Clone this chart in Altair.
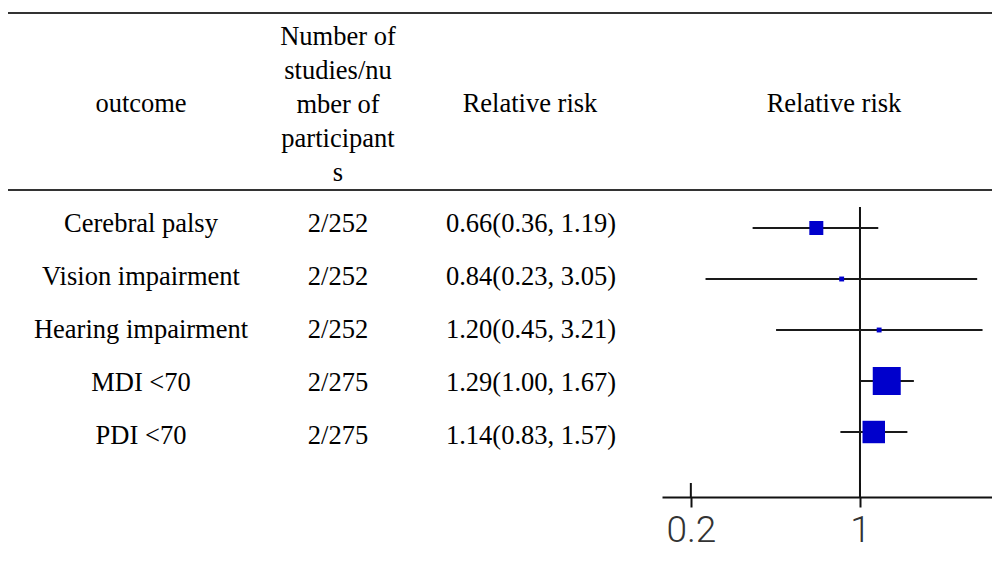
import altair as alt
import pandas as pd

# ---- data ----
outcomes = ["Cerebral palsy", "Vision impairment", "Hearing impairment", "MDI <70", "PDI <70"]
studies = ["2/252", "2/252", "2/252", "2/275", "2/275"]
rr = [0.66, 0.84, 1.20, 1.29, 1.14]
ci_low = [0.36, 0.23, 0.45, 1.00, 0.83]
ci_high = [1.19, 3.05, 3.21, 1.67, 1.57]
weights = [24.5, 3.0, 3.0, 98.0, 63.0]
tick_values = [0.2, 1]
header_outcome = "outcome"
header_studies = ["Number of", "studies/nu", "mber of", "participant", "s"]
header_rr = "Relative risk"

df = pd.DataFrame({
    "row": list(range(len(outcomes))),
    "outcome": outcomes,
    "studies": studies,
    "rr": rr,
    "lo": ci_low,
    "hi": ci_high,
    "w": weights,
})
df["rr_text"] = [f"{a:.2f}({b:.2f}, {c:.2f})" for a, b, c in zip(rr, ci_low, ci_high)]

W = 984          # fits inside the 1000px window with 8px page margins
TOTAL_H = 555
AXIS_Y = 489

xscale = alt.Scale(type="log", domain=[0.152, 3.512], range=[654, 984])
yforest = alt.Scale(domain=[0, 4], range=[220, 424], nice=False, zero=False)
ytable = alt.Scale(domain=[0, 4], range=[224, 436], nice=False, zero=False)

SERIF = "Liberation Serif"
FS = 26.5
TXT = "#000000"

base = alt.Chart(df)

# horizontal table rules
rules_df = pd.DataFrame({"ry": [5, 182]})
table_rules = alt.Chart(rules_df).mark_rule(color="#333333", strokeWidth=2).encode(
    x=alt.value(0), x2=alt.value(W), y=alt.Y("ry:Q", scale=None)
)

# headers
hdr_df = pd.DataFrame({"t": [header_outcome, header_rr, header_rr], "hx": [133, 522, 826]})
headers = alt.Chart(hdr_df).mark_text(
    font=SERIF, fontSize=FS, color=TXT, align="center", baseline="alphabetic"
).encode(x=alt.X("hx:Q", scale=None), y=alt.value(104), text="t:N")

hdr2 = alt.Chart(pd.DataFrame({"t": [header_studies]})).mark_text(
    font=SERIF, fontSize=FS, color=TXT, align="center", baseline="top", lineHeight=34
).encode(x=alt.value(330), y=alt.value(16), text="t")

# table columns
def col(field, xpos):
    return base.mark_text(font=SERIF, fontSize=FS, color=TXT, align="center", baseline="alphabetic").encode(
        x=alt.value(xpos), y=alt.Y("row:Q", scale=ytable, axis=None), text=f"{field}:N")

col1 = col("outcome", 133)
col2 = col("studies", 330)
col3 = col("rr_text", 523)

# forest plot
ref_line = alt.Chart(pd.DataFrame({"v": [1]})).mark_rule(color="#111111", strokeWidth=2).encode(
    x=alt.X("v:Q", scale=xscale), y=alt.value(199), y2=alt.value(AXIS_Y))

up_ticks = alt.Chart(pd.DataFrame({"v": tick_values})).mark_rule(color="#111111", strokeWidth=2).encode(
    x=alt.X("v:Q", scale=xscale), y=alt.value(AXIS_Y - 14), y2=alt.value(AXIS_Y))

ci = base.mark_rule(color="#1a1a1a", strokeWidth=2.2).encode(
    x=alt.X("lo:Q", scale=xscale, axis=alt.Axis(
        values=tick_values, format="~g", title=None, grid=False,
        domainColor="#111111", domainWidth=2, tickColor="#111111", tickWidth=2, tickSize=10,
        labelFont="Roboto", labelFontWeight=300, labelFontSize=37, labelColor="#333333",
        labelPadding=5, labelFlush=False)),
    x2="hi:Q",
    y=alt.Y("row:Q", scale=yforest, axis=None),
)

boxes = base.mark_square(color="#0000CC", opacity=1, filled=True).encode(
    x=alt.X("rr:Q", scale=xscale),
    y=alt.Y("row:Q", scale=yforest, axis=None),
    size=alt.Size("w:Q", scale=alt.Scale(domain=[0, 100], range=[0, 800]), legend=None),
)

chart = alt.layer(
    table_rules, headers, hdr2, col1, col2, col3, ref_line, up_ticks, ci, boxes
).resolve_scale(y="independent").properties(
    width=W, height=AXIS_Y,
    autosize=alt.AutoSizeParams(type="none"),
    padding={"left": 0, "top": 0, "right": 0, "bottom": TOTAL_H - AXIS_Y},
    background="white",
).configure_view(stroke=None)

chart.save("out.html", embed_options={"renderer": "svg", "actions": False})
